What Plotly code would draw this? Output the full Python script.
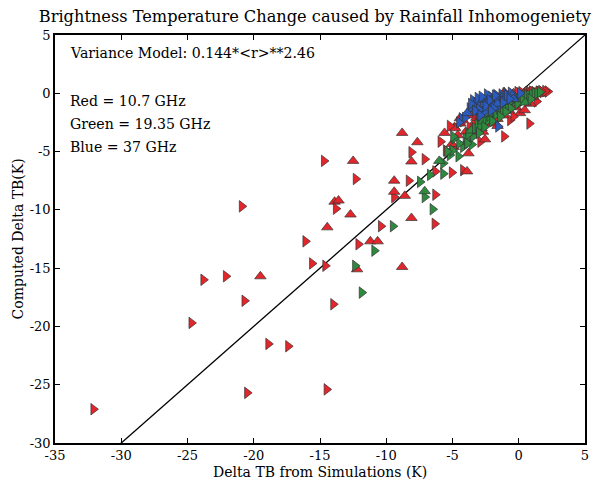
import plotly.graph_objects as go

# Brightness-temperature change: computed vs simulated, per frequency channel.
# Each point: (simulated dTB, computed dTB, marker shape '^' or '>')
red_x = [-32.1, -24.7, -23.8, -22.1, -20.7, -20.9, -20.5, -19.5, -18.9, -17.4,
         -16.1, -15.6, -14.7, -14.6, -14.5, -14.45, -14.0, -13.9, -13.6, -13.8,
         -12.5, -12.7, -12.3, -12.1, -12.2, -11.2, -10.65, -10.4, -9.4, -9.4,
         -9.4, -8.8, -8.8, -8.6, -8.3, -8.1, -8.1, -8.1, -7.65, -7.1,
         -6.35, -6.3, -6.3, -5.9, -5.5, -5.05, -4.2, -3.9, -4.85, -4.4,
         -4.9, -5.05, -3.8, -2.9, -2.55, -4.8, -4.45, -3.4, -2.9, -0.65,
         0.8, -1.1, 0.1, 0.45, 1.35, 2.2, 0.6,
         -4.0, -3.7, -3.5, -3.2, -3.0, -2.8, -2.6, -2.5, -2.3, -2.2,
         -2.0, -1.9, -1.8, -1.6, -1.5, -1.4, -1.3, -1.2, -1.0, -0.9,
         -0.8, -0.7, -0.6, -0.5, -0.4, -0.3, -0.2, -0.1, 0.0, 0.1,
         0.2, 0.3, 0.4, 0.5, 0.6, 0.7, 0.8, 0.9, 1.0, 1.1,
         1.2, 1.3, 1.5, 1.6, 1.8, 2.0, 1.7, 1.4, 0.9, -1.1,
         -2.1, -3.1, -3.6, -4.2, -3.3, -2.7, -1.6, -0.4, -5.6, -5.2, -4.6]
red_y = [-27.1, -19.7, -16.0, -15.7, -17.8, -9.7, -25.7, -15.7, -21.5, -21.7,
         -12.7, -14.6, -5.8, -14.8, -25.4, -11.5, -18.1, -9.3, -9.2, -9.9,
         -5.8, -10.4, -7.35, -12.95, -15.1, -12.7, -12.7, -11.4, -7.5, -8.9,
         -8.45, -3.4, -14.9, -8.8, -7.5, -10.7, -5.05, -5.85, -4.2, -5.65,
         -11.2, -8.7, -6.7, -4.15, -4.9, -6.8, -6.6, -6.7, -2.9, -2.6,
         -4.6, -4.35, -5.15, -4.15, -3.95, -3.0, -2.15, -2.6, -2.3, -2.3,
         -2.6, -3.7, -1.7, -1.45, -0.7, 0.15, -0.75,
         -3.3, -2.9, -3.5, -2.1, -1.8, -3.0, -2.5, -1.6, -2.0, -1.3,
         -2.6, -1.0, -1.7, -2.2, -0.8, -1.4, -0.4, -1.9, -0.6, -1.1,
         -0.2, -1.5, -0.5, -0.9, 0.0, -0.3, -1.2, 0.1, -0.4, -0.8,
         0.1, -0.2, -0.5, 0.15, -0.1, -0.4, 0.1, -0.9, 0.15, -0.3,
         0.1, -0.1, 0.15, -0.05, 0.1, 0.2, 0.2, 0.2, 0.2, 0.1,
         -0.5, -1.3, -1.9, -2.4, -3.2, -3.3, -2.8, -2.0, -3.4, -2.8, -3.6]
red_shape = list(">>>>>>>^>>" ">>>>>^>^^>" "^^>>^^^>^>" "^^^^>^>^^>"
                 ">>>>>>>^^^" "^^^>^^^^>>" ">>^^>>^"
                 "^>^^>^>^^>" "^^>^^>^^>^" "^^>^^>^>^>" ">^>^>^>^>^"
                 ">>>^>>>^^^" "^>^>^^^>^>^")

green_x = [-11.85, -12.35, -10.9, -9.5, -7.45, -7.1, -7.1, -6.5, -6.7, -5.7,
           -5.7, -4.55, -4.2, -4.5, -4.85, -4.95, -3.55, -3.45,
           -4.0, -3.8, -3.6, -3.3, -3.1, -2.9, -2.7, -2.5, -2.3, -2.2,
           -2.0, -1.8, -1.7, -1.5, -1.3, -1.2, -1.0, -0.8, -0.7, -0.5,
           -0.3, -0.2, 0.0, 0.2, 0.4, 0.6, 0.8, 1.0, 1.2, 1.4,
           1.6, 0.3, -0.1, -0.6, -1.0, -1.4, -2.0, -2.6, -3.0, -3.9,
           -5.2, -5.0, -6.0, -5.4, -0.9, -1.6, -2.4, 0.5, 0.9]
green_y = [-17.1, -14.8, -13.5, -11.4, -7.6, -8.9, -8.4, -9.95, -7.0, -6.9,
           -6.0, -5.4, -4.6, -4.3, -3.85, -3.7, -4.4, -3.7,
           -3.9, -3.5, -3.2, -3.0, -2.7, -2.8, -2.4, -2.2, -2.3, -1.9,
           -1.8, -1.5, -1.8, -1.3, -1.1, -1.4, -0.9, -1.0, -0.7, -0.6,
           -0.7, -0.4, -0.5, -0.3, -0.3, -0.2, -0.2, -0.1, 0.0, 0.0,
           0.1, -0.6, -0.9, -1.3, -1.6, -2.0, -2.4, -2.9, -3.4, -4.3,
           -5.3, -4.9, -5.8, -5.0, -0.5, -1.0, -1.6, -0.8, -0.5]
green_shape = list(">>>>>>^>>>" ">>>>>>>>" ">>^>>>^>>>" "^>>>^>>>^>"
                   ">>>^>>>>>>" ">>>>>>>>>>" ">>^>>>>^>")

blue_x = [-4.3, -4.05, -3.45, -3.4, -3.2, -2.9, -2.7, -2.5, -2.3, -2.1,
          -1.9, -1.7, -1.5, -1.3, -1.2, -1.0, -0.8, -0.6, -0.5, 0.1,
          -1.55, -2.0, -2.6, -3.0, -3.7, -1.1, -0.4, -2.4, -1.4, -3.9,
          -4.5, -3.6, -3.1, -2.8, -2.2, -1.8, -1.6, -0.9, -0.7, -3.3,
          -2.5, -1.9, -1.2, -2.9, -2.1]
blue_y = [-2.15, -2.1, -0.6, -1.1, -0.85, -0.7, -1.15, -0.5, -0.9, -0.3,
          -0.7, -0.15, -0.5, -0.1, -0.4, 0.0, -0.3, 0.05, -0.2, 0.0,
          -2.85, -1.0, -1.6, -1.4, -1.3, -0.7, -0.5, -0.1, -1.0, -1.7,
          -2.5, -0.9, -0.4, -0.3, -0.6, -0.2, -0.9, -0.2, -0.5, -1.5,
          -1.1, -1.3, -0.8, -1.9, -1.5]
blue_shape = list(">>>>>>>^>>" ">>^>>>>>^>" ">>>>>>^>>^" ">>>>>>^>>>"
                  ">>>>>")

x_ticks = [-35, -30, -25, -20, -15, -10, -5, 0, 5]
y_ticks = [-30, -25, -20, -15, -10, -5, 0, 5]

SYMBOLS = {"^": "triangle-up", ">": "triangle-right"}
FONT = "DejaVu Serif"

fig = go.Figure()

# one-to-one reference line
fig.add_trace(go.Scatter(x=[-35, 5], y=[-35, 5], mode="lines",
                         line=dict(color="black", width=1.3),
                         showlegend=False, hoverinfo="skip"))


def add_series(xs, ys, shapes, color):
    fig.add_trace(go.Scatter(
        x=xs, y=ys, mode="markers", showlegend=False,
        marker=dict(symbol=[SYMBOLS[s] for s in shapes], size=10, color=color,
                    line=dict(color="#333333", width=0.7)),
    ))


add_series(red_x, red_y, red_shape, "#e3262b")
add_series(green_x, green_y, green_shape, "#2d8a3e")
add_series(blue_x, blue_y, blue_shape, "#2a5bbf")

axis_common = dict(showgrid=False, zeroline=False, ticks="inside", ticklen=5,
                   tickwidth=1, tickcolor="black", showline=True,
                   linecolor="black", linewidth=1.5, mirror="ticks",
                   automargin=False,
                   tickfont=dict(family=FONT, size=13, color="black"))

fig.update_xaxes(range=[-35, 5], tickvals=x_ticks,
                 ticktext=[str(v) for v in x_ticks], **axis_common)
fig.update_yaxes(range=[-30, 5], tickvals=y_ticks,
                 ticktext=[str(v) for v in y_ticks], **axis_common)

# axis titles
fig.add_annotation(x=0.5, y=-0.072, xref="paper", yref="paper",
                   text="Delta TB from Simulations (K)", showarrow=False,
                   xanchor="center", yanchor="middle",
                   font=dict(family=FONT, size=14, color="black"))
fig.add_annotation(x=-0.069, y=0.5, xref="paper", yref="paper",
                   text="Computed Delta TB(K)", showarrow=False, textangle=-90,
                   xanchor="center", yanchor="middle",
                   font=dict(family=FONT, size=14, color="black"))

notes = [("Variance Model: 0.144*&lt;r&gt;**2.46", 0.956),
         ("Red = 10.7 GHz", 0.838),
         ("Green = 19.35 GHz", 0.782),
         ("Blue = 37 GHz", 0.725)]
for text, ypos in notes:
    fig.add_annotation(x=0.024, y=ypos, xref="paper", yref="paper",
                       text=text, showarrow=False, xanchor="left",
                       yanchor="middle",
                       font=dict(family=FONT, size=14.1, color="black"))

fig.update_layout(
    width=602, height=480,
    margin=dict(l=55, r=17, t=35, b=37),
    paper_bgcolor="white", plot_bgcolor="white",
    title=dict(text="Brightness Temperature Change caused by Rainfall Inhomogeniety",
               x=0.523, xanchor="center", y=0.965, yanchor="middle",
               font=dict(family=FONT, size=16.2, color="black")),
)

fig.write_html("out.html")
